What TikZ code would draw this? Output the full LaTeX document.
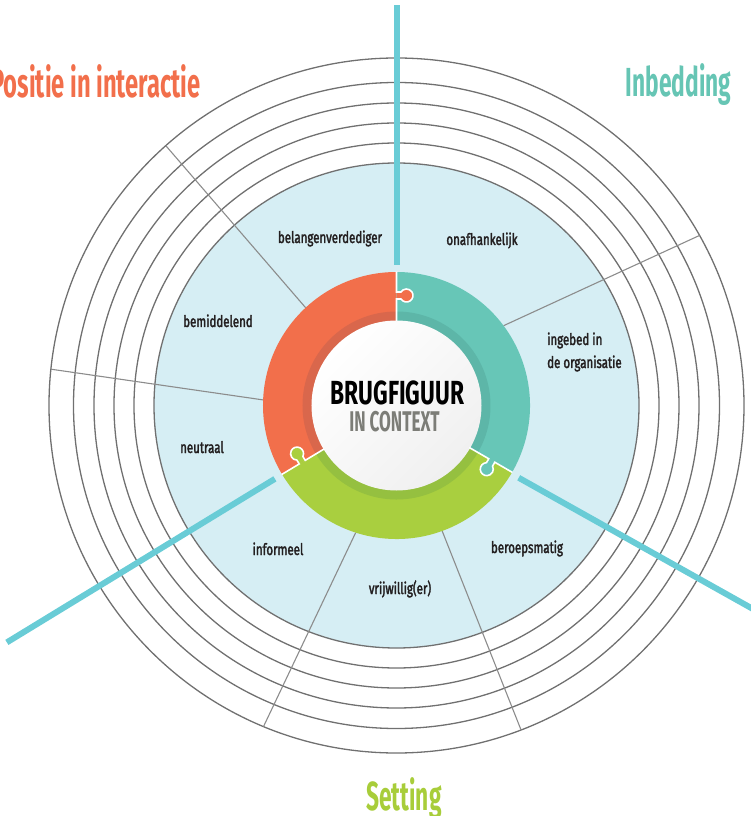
\documentclass[tikz,border=0pt]{standalone}
\usepackage{fontspec}
\setmainfont{Fira Sans}
\newfontfamily\labfont{Fira Sans}[FakeStretch=0.72,FakeBold=2]
\newfontfamily\headfont{Fira Sans}[FakeStretch=0.56]
\newfontfamily\posfont{Fira Sans}[FakeStretch=0.585]
\newfontfamily\brugfont{Fira Sans}[FakeStretch=0.68]
\newfontfamily\ctxfont{Fira Sans}[FakeStretch=0.6]
\definecolor{segorange}{HTML}{F26F4B}
\definecolor{darkorange}{HTML}{D9674C}
\definecolor{segteal}{HTML}{67C6B7}
\definecolor{darkteal}{HTML}{5DB6A8}
\definecolor{seggreen}{HTML}{A9CF3F}
\definecolor{darkgreen}{HTML}{95C040}
\definecolor{diskblue}{HTML}{D6EEF4}
\definecolor{axiscyan}{HTML}{69CCD6}
\definecolor{ringgray}{HTML}{707070}
\definecolor{spokegray}{HTML}{8C8C8C}
\definecolor{labtext}{HTML}{231F20}
\definecolor{ctxgray}{HTML}{7C7D77}
\definecolor{titleteal}{HTML}{66C5B4}
\definecolor{titlegreen}{HTML}{A8CD3A}
\begin{document}
\begin{tikzpicture}[x=1pt,y=1pt,
  lab/.style={font=\labfont\fontsize{16}{23}\selectfont, text=labtext, inner sep=0pt, anchor=base},
  title/.style={font=\headfont\bfseries\fontsize{40.6}{42}\selectfont, inner sep=0pt},
  ring/.style={draw=ringgray, line width=1.3},
  spoke/.style={draw=spokegray, line width=1.1},
  axis/.style={draw=axiscyan, line width=6},
  seam/.style={draw=white, line width=1.6}]
\useasboundingbox (-396.5,-410.5) rectangle (353.5,405.5);
\fill[diskblue] (0,0) circle[radius=242.5];
\foreach \r in {242.5,262.5,282.5,302.5,323,347.5}
  \draw[ring] (0,0) circle[radius=\r];
\foreach \a/\b in {36.7/29.3,132.9/131.6,177.6/174,252.2/247.5,290/291}
  \draw[spoke] (\a:133.5) -- (\b:347.5);
\draw[axis] (90:140.5) -- (90:400.5);
\draw[axis] (211.1:142) -- (211.3:456);
\draw[axis] (-30.6:142) -- (-29.7:430);
% puzzle ring
\foreach \s/\e/\c/\d in {90/211/segorange/darkorange,211/330/seggreen/darkgreen,330/450/segteal/darkteal}{
  \fill[\c] (\s:133.5) arc[start angle=\s,end angle=\e,radius=133.5] -- (\e:85) arc[start angle=\e,end angle=\s,radius=85] -- cycle;
  \fill[\d] (\s:94) arc[start angle=\s,end angle=\e,radius=94] -- (\e:84) arc[start angle=\e,end angle=\s,radius=84] -- cycle;
}
\shade[top color=white, bottom color=black!6, shading angle=45] (0,0) circle[radius=85];
\foreach \t/\c in {90/segorange,211/seggreen,330/segteal}{
  \begin{scope}[rotate=\t]
    \filldraw[fill=\c, seam] (84,0) -- (106.5,0) -- (106.5,-4.52) arc[start angle=122.6,end angle=417.4,radius=6.5] -- (113.5,0) -- (134,0);
  \end{scope}
}
\node[anchor=base, font=\brugfont\bfseries\fontsize{33.4}{34}\selectfont, inner sep=0pt] (brug) at (1,0.5) {BRUGFIGUUR};
\node[anchor=base, font=\ctxfont\bfseries\fontsize{28.5}{30}\selectfont, text=ctxgray, inner sep=0pt] (ctx) at (-2,-26.5) {IN CONTEXT};
% labels
\node[lab] (belang) at (-66.5,162.5) {belangenverdediger};
\node[lab] (onafh) at (85.5,160.5) {onafhankelijk};
\node[lab] (bemid) at (-178.5,78.5) {bemiddelend};
\node[lab] (neutr) at (-194.5,-47.5) {neutraal};
\node[lab] (inform) at (-118.5,-149.5) {informeel};
\node[lab] (vrijw) at (3.5,-188.5) {vrijwillig(er)};
\node[lab] (beroep) at (130.5,-147.5) {beroepsmatig};
\node[lab, anchor=base west, align=left] (ingebed) at (150.5,37.5) {ingebed in\\de organisatie};
% titles
\node[title, font=\posfont\bfseries\fontsize{40.6}{42}\selectfont, text=segorange, anchor=base east] (positie) at (-195.5,307.5) {Positie in interactie};
\node[title, text=titleteal, anchor=base] (inbed) at (282,308.8) {Inbedding};
\node[title, text=titlegreen, anchor=base] (setting) at (7.5,-404.5) {Setting};
\end{tikzpicture}
\end{document}
